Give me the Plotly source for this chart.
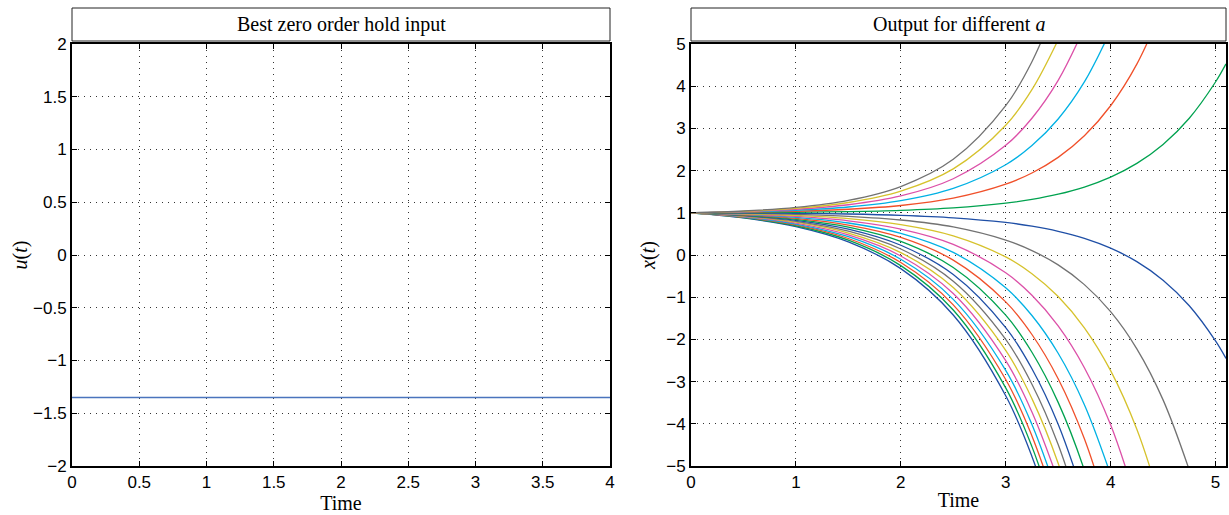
import plotly.graph_objects as go

# ---------------- data ----------------
u_time = [0, 4]
u_value = [-1.35, -1.35]

time_grid = [0, 0.5, 1, 1.5, 2, 2.5, 3, 3.25, 3.5, 3.75, 4, 4.25, 4.5, 4.75, 5, 5.1]

x01 = [1, 0.880, 0.672, 0.310, -0.322, -1.421, -3.336, -4.774, -6.671]
x02 = [1, 0.888, 0.693, 0.350, -0.251, -1.304, -3.149, -4.541, -6.382]
x03 = [1, 0.896, 0.713, 0.391, -0.178, -1.181, -2.949, -4.288, -6.066]
x04 = [1, 0.904, 0.734, 0.433, -0.102, -1.051, -2.734, -4.015, -5.720]
x05 = [1, 0.912, 0.756, 0.476, -0.023, -0.914, -2.505, -3.720, -5.344]
x06 = [1, 0.920, 0.777, 0.520, 0.058, -0.771, -2.260, -3.403, -4.935, -6.988]
x07 = [1, 0.928, 0.799, 0.565, 0.143, -0.620, -1.999, -3.062, -4.491, -6.412]
x08 = [1, 0.937, 0.821, 0.612, 0.231, -0.462, -1.721, -2.696, -4.011, -5.784]
x09 = [1, 0.945, 0.844, 0.660, 0.322, -0.296, -1.425, -2.304, -3.492, -5.099, -7.274]
x10 = [1, 0.953, 0.867, 0.708, 0.416, -0.121, -1.111, -1.884, -2.932, -4.355, -6.286]
x11 = [1, 0.962, 0.890, 0.758, 0.514, 0.062, -0.777, -1.434, -2.329, -3.547, -5.205]
x12 = [1, 0.970, 0.914, 0.810, 0.615, 0.253, -0.422, -0.954, -1.680, -2.671, -4.025, -5.872]
x13 = [1, 0.978, 0.938, 0.862, 0.720, 0.454, -0.046, -0.442, -0.983, -1.725, -2.741, -4.131, -6.036]
x14 = [1, 0.987, 0.962, 0.916, 0.829, 0.664, 0.352, 0.105, -0.235, -0.702, -1.343, -2.224, -3.433, -5.095]
x15 = [1, 0.996, 0.987, 0.971, 0.940, 0.882, 0.771, 0.683, 0.561, 0.393, 0.161, -0.157, -0.596, -1.202, -2.035, -2.451]
x16 = [1, 1.004, 1.013, 1.029, 1.059, 1.117, 1.228, 1.318, 1.441, 1.611, 1.846, 2.171, 2.620, 3.241, 4.099, 4.528]
x17 = [1, 1.013, 1.037, 1.084, 1.173, 1.346, 1.677, 1.944, 2.314, 2.826, 3.537, 4.523, 5.889]
x18 = [1, 1.021, 1.061, 1.138, 1.288, 1.578, 2.139, 2.593, 3.223, 4.101, 5.320]
x19 = [1, 1.028, 1.084, 1.191, 1.400, 1.807, 2.598, 3.241, 4.138, 5.390]
x20 = [1, 1.036, 1.106, 1.244, 1.514, 2.041, 3.075, 3.918, 5.098]
x21 = [1, 1.043, 1.127, 1.294, 1.622, 2.267, 3.539, 4.581, 6.045]

outputs = [x01, x02, x03, x04, x05, x06, x07, x08, x09, x10, x11,
           x12, x13, x14, x15, x16, x17, x18, x19, x20, x21]

left_xticks = [0, 0.5, 1, 1.5, 2, 2.5, 3, 3.5, 4]
left_yticks = [-2, -1.5, -1, -0.5, 0, 0.5, 1, 1.5, 2]
right_xticks = [0, 1, 2, 3, 4, 5]
right_yticks = [-5, -4, -3, -2, -1, 0, 1, 2, 3, 4, 5]

# ---------------- styling ----------------
color_cycle = ["#1f4fa6", "#00a24f", "#f0502a", "#00b1e4", "#dc50a8", "#d6c22c", "#727272"]
u_color = "#4a74bd"

W, H = 1229, 515
L1, R1 = 72, 610
L2, R2 = 691, 1226
TOP, BOT = 44, 466

def fx(px):
    return px / W

def fy(py):
    return 1 - py / H

fig = go.Figure()

fig.add_trace(go.Scatter(x=u_time, y=u_value, mode="lines",
                         line=dict(color=u_color, width=1.5),
                         xaxis="x", yaxis="y", showlegend=False, hoverinfo="skip"))

for i, vals in enumerate(outputs):
    fig.add_trace(go.Scatter(x=time_grid[:len(vals)], y=vals, mode="lines",
                             line=dict(color=color_cycle[i % 7], width=1.3, shape="spline"),
                             xaxis="x2", yaxis="y2", showlegend=False, hoverinfo="skip"))

tick_font = dict(family="Liberation Sans, Arial, sans-serif", size=17, color="black")
serif = "Liberation Serif, Times New Roman, serif"
title_font = dict(family=serif, size=20, color="black")

axis_common = dict(showline=True, linewidth=2, linecolor="black", mirror="ticks",
                   ticks="inside", ticklen=5, tickwidth=1, tickcolor="black",
                   showgrid=True, gridcolor="#333333", griddash="1px,5px", gridwidth=1,
                   zeroline=False, tickfont=tick_font, automargin=False)

fig.update_layout(
    width=W, height=H,
    margin=dict(l=0, r=0, t=0, b=0, autoexpand=False),
    paper_bgcolor="white", plot_bgcolor="white",
    xaxis=dict(domain=[fx(L1), fx(R1)], range=[0, 4], tickvals=left_xticks,
               anchor="y", title=dict(text="Time", font=title_font, standoff=2),
               **axis_common),
    yaxis=dict(domain=[fy(BOT), fy(TOP)], range=[-2, 2], tickvals=left_yticks,
               anchor="x", title=dict(text="<i>u</i>(<i>t</i>)", font=title_font, standoff=0),
               **axis_common),
    xaxis2=dict(domain=[fx(L2), fx(R2)], range=[0, 5.1], tickvals=right_xticks,
                anchor="y2", title=dict(text="Time", font=title_font, standoff=2),
                **axis_common),
    yaxis2=dict(domain=[fy(BOT), fy(TOP)], range=[-5, 5], tickvals=right_yticks,
                anchor="x2", title=dict(text="<i>x</i>(<i>t</i>)", font=title_font, standoff=5),
                **axis_common),
)

# title boxes
for (l, r, txt) in [(L1, R1, "Best zero order hold input"), (L2, R2, "Output for different <i>a</i>")]:
    fig.add_shape(type="rect", xref="paper", yref="paper",
                  x0=fx(l), x1=fx(r), y0=fy(41), y1=fy(8),
                  line=dict(color="#222222", width=1), fillcolor="white")
    fig.add_annotation(xref="paper", yref="paper", x=(fx(l) + fx(r)) / 2, y=fy(24.5),
                       text=txt, showarrow=False, xanchor="center", yanchor="middle",
                       font=title_font)

fig.write_html("out.html")
